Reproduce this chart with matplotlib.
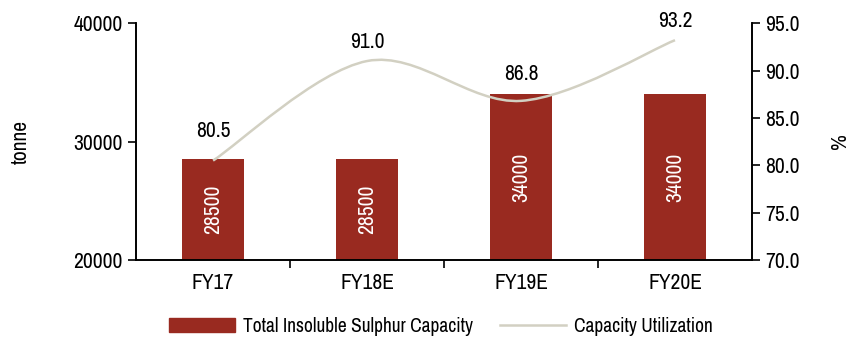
import numpy as np
import matplotlib.pyplot as plt
from matplotlib.path import Path
from matplotlib.patches import PathPatch
from matplotlib.lines import Line2D
from matplotlib.patches import Rectangle

plt.rcParams['font.family'] = ['Archivo Narrow', 'DejaVu Sans']

# ===== DATA =====
years = ["FY17", "FY18E", "FY19E", "FY20E"]
capacity = [28500, 28500, 34000, 34000]
utilization = [80.5, 91.0, 86.8, 93.2]
label_offsets = [21, 14, 19, 13.5]   # points above the line point

bar_color = "#992A20"
line_color = "#D2D0C2"
fs = 15.5

fig = plt.figure(figsize=(8.56, 3.40), dpi=100)
ax = fig.add_axes([0.159, 0.235, 0.7195, 0.697])
ax2 = ax.twinx()

x = np.arange(len(years))
ax.bar(x, capacity, width=0.4, color=bar_color, zorder=2)
for xi, v in zip(x, capacity):
    ax.text(xi, (20000 + v) / 2, str(v), rotation=90, color="white",
            ha="center", va="center", fontsize=fs)

ax.set_ylim(20000, 40000)
ax.set_yticks([20000, 30000, 40000])
ax.set_xlim(-0.5, len(years) - 0.5)
ax.set_xticks(x)
ax.set_xticklabels(years)
ax.set_xticks(x[:-1] + 0.5, minor=True)
ax.tick_params(axis="x", which="major", length=0, pad=9, labelsize=fs)
ax.tick_params(axis="x", which="minor", length=6, width=1.2, direction="out")
ax.tick_params(axis="y", length=6, width=1.2, direction="out", labelsize=fs)
ax.set_ylabel("tonne", fontsize=fs, labelpad=31)
ax.spines["top"].set_visible(False)
for s in ["left", "bottom", "right"]:
    ax.spines[s].set_linewidth(1.2)

# smooth line (Catmull-Rom -> cubic Bezier)
pts = np.column_stack([x, utilization]).astype(float)
verts = [tuple(pts[0])]
codes = [Path.MOVETO]
n = len(pts)
for i in range(n - 1):
    p0 = pts[i - 1] if i > 0 else pts[i]
    p1 = pts[i]
    p2 = pts[i + 1]
    p3 = pts[i + 2] if i + 2 < n else pts[i + 1]
    c1 = p1 + (p2 - p0) / 6
    c2 = p2 - (p3 - p1) / 6
    verts += [tuple(c1), tuple(c2), tuple(p2)]
    codes += [Path.CURVE4] * 3
ax2.add_patch(PathPatch(Path(verts, codes), facecolor="none",
                        edgecolor=line_color, lw=1.8, zorder=3))
for xi, v, off in zip(x, utilization, label_offsets):
    ax2.annotate(f"{v:.1f}", (xi, v), xytext=(0, off), textcoords="offset points",
                 ha="center", va="center", fontsize=fs)

ax2.set_ylim(70, 95)
ax2.set_yticks(np.arange(70, 96, 5))
ax2.set_yticklabels([f"{t:.1f}" for t in np.arange(70, 96, 5)])
ax2.tick_params(axis="y", length=6, width=1.2, direction="out", labelsize=fs)
ax2.set_ylabel("%", fontsize=fs, labelpad=22)
ax2.spines["top"].set_visible(False)
for s in ["left", "bottom", "right"]:
    ax2.spines[s].set_linewidth(1.2)

handles = [Rectangle((0, 0), 1, 1, color=bar_color),
           Line2D([0], [0], color=line_color, lw=1.8)]
fig.legend(handles, ["Total Insoluble Sulphur Capacity", "Capacity Utilization"],
           loc="center", bbox_to_anchor=(0.515, 0.04), ncol=2, frameon=False,
           fontsize=14, handlelength=3.4, handletextpad=0.4, columnspacing=1.4)

fig.savefig("out.png", dpi=100)
